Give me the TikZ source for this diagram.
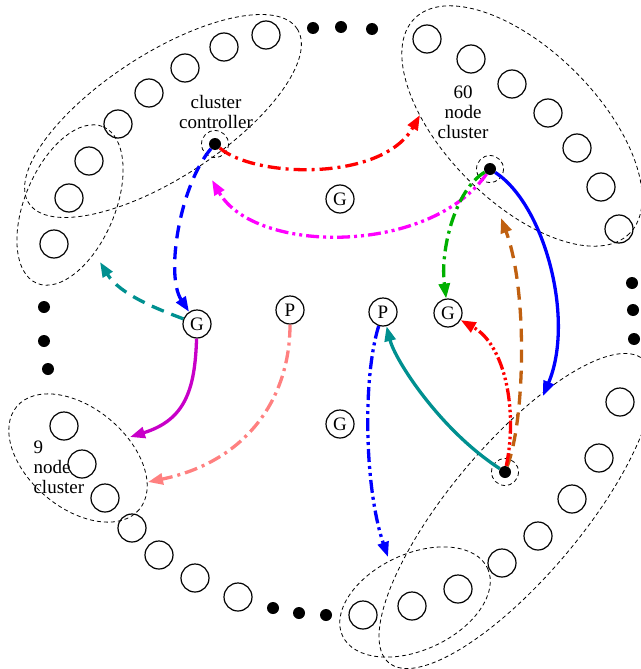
\documentclass[tikz,border=0pt]{standalone}
\usepackage{fontspec}
\setmainfont{Liberation Serif}
\usetikzlibrary{arrows.meta}

\definecolor{tealc}{HTML}{009090}
\definecolor{greenc}{HTML}{00B000}
\definecolor{brownc}{HTML}{C06010}
\definecolor{salmonc}{HTML}{FF8080}
\definecolor{purplec}{HTML}{C800C8}
\definecolor{magentac}{HTML}{FF00FF}

\begin{document}
\begin{tikzpicture}[x=1pt, y=-1pt,
    member/.style={circle, draw, line width=1.2pt, minimum size=28pt, inner sep=0pt},
    gp/.style={member, font=\fontsize{19}{20}\selectfont},
    blob/.style={circle, fill=black, minimum size=12pt, inner sep=0pt},
    ctrl/.style={circle, fill=black, minimum size=12pt, inner sep=0pt},
    zone/.style={line width=0.8pt, dash pattern=on 4pt off 3pt},
    lbl/.style={align=center, font=\fontsize{19}{20}\selectfont},
    link/.style={line width=3.3pt, -{Triangle[length=15pt,width=11pt]}},
    dsh/.style={dash pattern=on 13pt off 8pt},
    dshdot/.style={dash pattern=on 13pt off 5pt on 3pt off 5pt},
    dshdotdot/.style={dash pattern=on 13pt off 4pt on 3pt off 4pt on 3pt off 4pt},
    dshdots/.style={dash pattern=on 13pt off 3pt on 2.5pt off 3pt on 2.5pt off 3pt on 2.5pt off 3pt}]
  \useasboundingbox (0,0) rectangle (640,669);

  % cluster members
  \foreach \p [count=\i] in {(266,35),(224,47),(185,68),(149,93),(118,124),(89,161),(69,198),(54,244)}
    \node[member] (tl\i) at \p {};
  \foreach \p [count=\i] in {(427,39),(471,59),(512,84),(548,113),(577,148),(601,187),(619,229)}
    \node[member] (tr\i) at \p {};
  \foreach \p [count=\i] in {(620,402),(599,458),(572,499),(538,536),(502,563),(458,589),(412,606),(363,615)}
    \node[member] (br\i) at \p {};
  \foreach \p [count=\i] in {(64,426),(82,464),(105,498),(132,528),(159,555),(195,578),(238,597)}
    \node[member] (bl\i) at \p {};

  % more nodes
  \foreach \p [count=\i] in {(313,28),(341,27),(372,29),(44,307),(44,341),(48,369),
                             (632,283),(633,310),(634,339),(273,608),(299,613),(326,615)}
    \node[blob] (dot\i) at \p {};

  % cluster boundaries
  \draw[zone, rotate around={33:(163,116)}] (163,116) ellipse (160 and 62);
  \draw[zone, rotate around={67:(70,205)}] (70,205) ellipse (85 and 45);
  \draw[zone, rotate around={-45:(522,126)}] (522,126) ellipse (152 and 76);
  \draw[zone, rotate around={50:(516,511)}] (516,511) ellipse (198 and 66);
  \draw[zone, rotate around={25:(415,602)}] (415,602) ellipse (80 and 48);
  \draw[zone, rotate around={-40:(78,458)}] (78,458) ellipse (80 and 50);

  % controllers
  \node[ctrl] (cc1) at (215,144) {};
  \node[ctrl] (cc2) at (490,169) {};
  \node[ctrl] (cc3) at (505,472) {};
  \foreach \c in {cc1,cc2,cc3}
    \draw[zone] (\c) circle (13.5);

  \node[lbl] (lblcc) at (216,112) {cluster\\controller};
  \node[lbl] (lbl60) at (463,112) {60\\node\\cluster};
  \node[lbl, align=left, anchor=west] (lbl9) at (30,467) {9\\node\\cluster};

  % G and P
  \node[gp] (Gc) at (340,199) {G};
  \node[gp] (Gl) at (197,324) {G};
  \node[gp] (Pl) at (290,310) {P};
  \node[gp] (Pr) at (383,312) {P};
  \node[gp] (Gr) at (448,313) {G};
  \node[gp] (Gb) at (340,424) {G};

  % arrow ends on the cluster boundaries
  \coordinate (tipA) at (420,115);
  \coordinate (tipB) at (212,180);
  \coordinate (tipC) at (543,396);
  \coordinate (tipD) at (501,218);
  \coordinate (tipE) at (388,557);
  \coordinate (tipF) at (148,482);
  \coordinate (tipG) at (130,437);
  \coordinate (tipH) at (100,262);

  % traffic
  \draw[link, dshdot, red] (cc1) .. controls (255,178) and (382,182) .. (tipA);
  \draw[link, dsh, blue] (cc1) .. controls (180,185) and (165,275) .. (Gl);
  \draw[link, dshdotdot, magentac] (cc2) .. controls (430,255) and (255,255) .. (tipB);
  \draw[link, dshdot, greenc] (cc2) .. controls (455,190) and (440,250) .. (Gr);
  \draw[link, blue] (cc2) .. controls (545,205) and (575,320) .. (tipC);
  \draw[link, dsh, brownc] (cc3) .. controls (525,420) and (528,290) .. (tipD);
  \draw[link, dshdots, red] (cc3) .. controls (518,410) and (505,345) .. (Gr);
  \draw[link, tealc] (cc3) .. controls (440,430) and (395,360) .. (Pr);
  \draw[link, dshdotdot, blue] (Pr) .. controls (362,380) and (365,490) .. (tipE);
  \draw[link, dshdot, salmonc] (Pl) .. controls (290,400) and (245,462) .. (tipF);
  \draw[link, purplec] (Gl) .. controls (195,390) and (185,420) .. (tipG);
  \draw[link, dsh, tealc] (Gl) .. controls (160,310) and (120,295) .. (tipH);
\end{tikzpicture}
\end{document}
